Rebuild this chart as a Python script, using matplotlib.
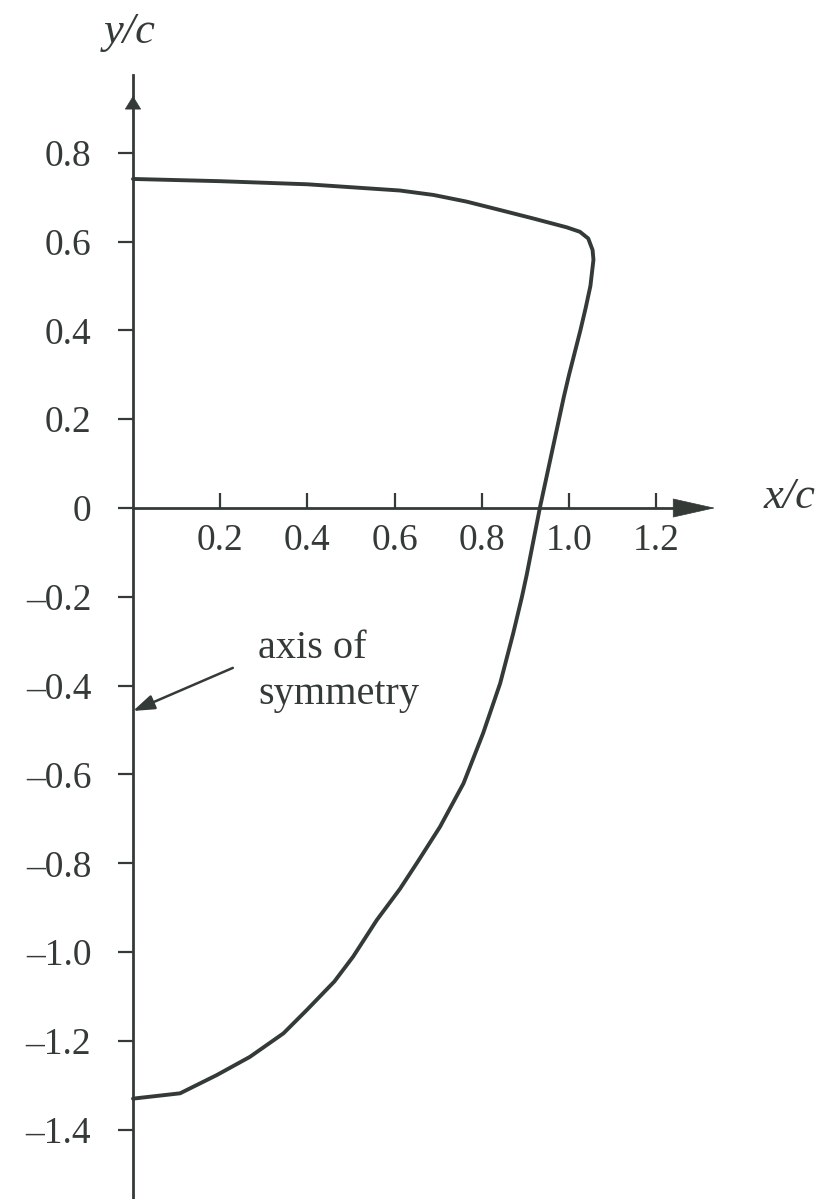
import matplotlib
matplotlib.use("Agg")
import matplotlib.pyplot as plt
from matplotlib.ticker import FixedLocator, FixedFormatter

# Outline of the half-section (x/c, y/c), traced from the top edge round to the bottom
x_outline = [0.000, 0.200, 0.400, 0.612, 0.689, 0.765, 0.842, 0.918, 0.995, 1.025,
             1.044, 1.054, 1.056, 1.049, 1.038, 1.026, 1.013, 1.000, 0.988, 0.977,
             0.966, 0.955, 0.944, 0.933, 0.923, 0.913, 0.903, 0.892, 0.872, 0.842,
             0.803, 0.758, 0.704, 0.654, 0.612, 0.559, 0.505, 0.462, 0.398, 0.345,
             0.268, 0.192, 0.108, 0.000]
y_outline = [0.741, 0.736, 0.729, 0.715, 0.705, 0.690, 0.671, 0.652, 0.632, 0.622,
             0.607, 0.581, 0.559, 0.500, 0.450, 0.400, 0.350, 0.300, 0.250, 0.200,
             0.150, 0.100, 0.050, 0.000, -0.050, -0.100, -0.150, -0.200, -0.282, -0.395,
             -0.507, -0.620, -0.718, -0.795, -0.858, -0.928, -1.010, -1.066, -1.131, -1.183,
             -1.236, -1.277, -1.318, -1.330]

x_ticks = [0.2, 0.4, 0.6, 0.8, 1.0, 1.2]
x_tick_labels = ["0.2", "0.4", "0.6", "0.8", "1.0", "1.2"]
y_ticks = [0.8, 0.6, 0.4, 0.2, 0.0, -0.2, -0.4, -0.6, -0.8, -1.0, -1.2, -1.4]
y_tick_labels = ["0.8", "0.6", "0.4", "0.2", "0", "\u20130.2", "\u20130.4", "\u20130.6",
                 "\u20130.8", "\u20131.0", "\u20131.2", "\u20131.4"]

INK = "#343b37"
SERIF = ["Liberation Serif", "DejaVu Serif"]
plt.rcParams["font.family"] = SERIF

fig = plt.figure(figsize=(8.25, 11.99), dpi=100)
ax = fig.add_axes([0, 0, 1, 1])
ax.set_xlim(-0.305, 1.587)
ax.set_ylim(-1.556, 1.144)
ax.patch.set_alpha(0)

# Axes drawn through the origin
for side in ("top", "right"):
    ax.spines[side].set_visible(False)
ax.spines["left"].set_position(("data", 0))
ax.spines["bottom"].set_position(("data", 0))
ax.spines["left"].set_bounds(-1.556, 0.975)
ax.spines["bottom"].set_bounds(0, 1.30)
for side in ("left", "bottom"):
    ax.spines[side].set_color(INK)
    ax.spines[side].set_linewidth(2.0)

ax.xaxis.set_major_locator(FixedLocator(x_ticks))
ax.xaxis.set_major_formatter(FixedFormatter(x_tick_labels))
ax.yaxis.set_major_locator(FixedLocator(y_ticks))
ax.yaxis.set_major_formatter(FixedFormatter(y_tick_labels))
ax.tick_params(axis="x", direction="in", length=11, width=1.6, color=INK,
               labelsize=27, labelcolor=INK, pad=11)
ax.tick_params(axis="y", direction="out", length=11, width=1.6, color=INK,
               labelsize=27, labelcolor=INK, pad=19)

# Arrowheads on the axes
ax.annotate("", xy=(1.335, 0), xytext=(1.243, 0),
            arrowprops=dict(arrowstyle="-|>,head_length=29,head_width=6.5",
                            mutation_scale=1, color=INK, lw=0.5, shrinkA=0, shrinkB=0))
ax.annotate("", xy=(0, 0.928), xytext=(0, 0.89),
            arrowprops=dict(arrowstyle="-|>,head_length=9,head_width=5.5",
                            mutation_scale=1, color=INK, lw=0.5, shrinkA=0, shrinkB=0))

# Outline
ax.plot(x_outline, y_outline, color=INK, lw=2.8, solid_capstyle="round",
        solid_joinstyle="round")

# Axis names
ax.text(-0.007, 1.072, "y/c", fontsize=32, style="italic", color=INK,
        ha="center", va="center")
ax.text(1.505, 0.025, "x/c", fontsize=32, style="italic", color=INK,
        ha="center", va="center")

# Axis-of-symmetry callout
ax.annotate("", xy=(0.0, -0.457), xytext=(0.229, -0.360),
            arrowprops=dict(arrowstyle="-|>,head_length=13,head_width=4.5",
                            mutation_scale=1, color=INK, lw=1.8, shrinkA=0, shrinkB=0))
ax.text(0.287, -0.337, "axis of", fontsize=29, color=INK, ha="left", va="baseline")
ax.text(0.287, -0.441, "symmetry", fontsize=29, color=INK, ha="left", va="baseline")

fig.savefig("out.png", dpi=100, facecolor="white")
